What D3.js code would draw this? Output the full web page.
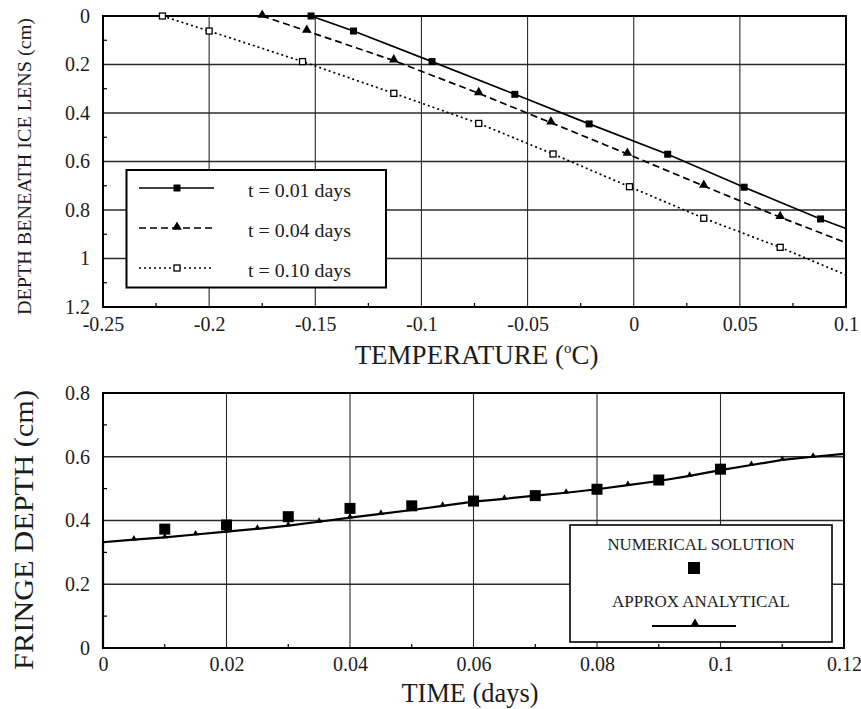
<!DOCTYPE html>
<html lang="en">
<head>
	<title>Depth beneath ice lens and fringe depth</title>
	<meta charset="utf-8" />
	<script type="text/javascript" src="https://d3js.org/d3.v7.min.js"></script>
	<style>
		body { margin: 0; background: #fff; }
		svg text { font-family: "Liberation Serif", "Times New Roman", serif; fill: #1c1c1c; }
	</style>
</head>
<body>

	<div id="content"></div>

  <script type="text/javascript">

	// ---- top panel: depth beneath ice lens vs temperature ----
	var tempTicks = [-0.25, -0.2, -0.15, -0.1, -0.05, 0, 0.05, 0.1];
	var depthTicks = [0, 0.2, 0.4, 0.6, 0.8, 1, 1.2];
	var seriesNames = ["t = 0.01 days", "t = 0.04 days", "t = 0.10 days"];

	var temp001 = [-0.152, -0.132, -0.095, -0.056, -0.021, 0.016, 0.052, 0.088];
	var depth001 = [0, 0.062, 0.188, 0.323, 0.445, 0.570, 0.706, 0.837];
	var temp004 = [-0.175, -0.154, -0.113, -0.073, -0.039, -0.003, 0.033, 0.069];
	var depth004 = [0, 0.062, 0.184, 0.319, 0.440, 0.569, 0.701, 0.830];
	var temp010 = [-0.222, -0.200, -0.156, -0.113, -0.073, -0.038, -0.002, 0.033, 0.069];
	var depth010 = [0, 0.062, 0.188, 0.319, 0.443, 0.569, 0.704, 0.834, 0.954];
	// where each curve leaves the plot at the right edge
	var edgeTemp = 0.1;
	var edgeDepth = [0.876, 0.935, 1.068];

	// ---- bottom panel: fringe depth vs time ----
	var timeTicks = [0, 0.02, 0.04, 0.06, 0.08, 0.1, 0.12];
	var fringeTicks = [0, 0.2, 0.4, 0.6, 0.8];
	var numTime = [0.01, 0.02, 0.03, 0.04, 0.05, 0.06, 0.07, 0.08, 0.09, 0.1];
	var numDepth = [0.373, 0.386, 0.412, 0.438, 0.446, 0.461, 0.478, 0.498, 0.527, 0.561];
	// analytical curve, starts from the origin and jumps up along the axis
	var anaTime = [0, 0, 0.005, 0.01, 0.015, 0.02, 0.025, 0.03, 0.035, 0.04, 0.045, 0.05, 0.055, 0.06,
		0.065, 0.07, 0.075, 0.08, 0.085, 0.09, 0.095, 0.1, 0.105, 0.11, 0.115, 0.12];
	var anaDepth = [0, 0.332, 0.340, 0.347, 0.356, 0.365, 0.374, 0.384, 0.396, 0.409, 0.421, 0.433, 0.446, 0.459,
		0.468, 0.478, 0.487, 0.498, 0.511, 0.524, 0.540, 0.558, 0.574, 0.590, 0.600, 0.609];

	var fmt = function(d) { return String(d); };
	var mids = function(t) { return t.slice(1).map(function(v, i) { return (v + t[i]) / 2; }); };

	var svg = d3.select("#content")
		.append("svg")
		.attr("width", 861)
		.attr("height", 709);

	var x1 = d3.scaleLinear().domain([-0.25, 0.1]).range([103, 846]);
	var y1 = d3.scaleLinear().domain([0, 1.2]).range([16, 307]);
	var x2 = d3.scaleLinear().domain([0, 0.12]).range([103, 844]);
	var y2 = d3.scaleLinear().domain([0, 0.8]).range([648, 393]);

	function drawFrame(x, y, xt, yt, xPad) {
		var g = svg.append("g");
		var x0 = x.range()[0], xN = x.range()[1];
		var yTop = Math.min(y.range()[0], y.range()[1]), yBot = Math.max(y.range()[0], y.range()[1]);

		// grid
		g.selectAll(".vgrid").data(xt).enter().append("line")
			.attr("x1", function(d) { return x(d); }).attr("x2", function(d) { return x(d); })
			.attr("y1", yTop).attr("y2", yBot)
			.attr("stroke", "#2a2a2a").attr("stroke-width", 1.1);
		g.selectAll(".hgrid").data(yt).enter().append("line")
			.attr("y1", function(d) { return y(d); }).attr("y2", function(d) { return y(d); })
			.attr("x1", x0).attr("x2", xN)
			.attr("stroke", "#2a2a2a").attr("stroke-width", 1.3);

		// minor ticks, inside
		g.selectAll(".mx").data(mids(xt)).enter().append("line")
			.attr("x1", function(d) { return x(d); }).attr("x2", function(d) { return x(d); })
			.attr("y1", yBot).attr("y2", yBot - 4)
			.attr("stroke", "#000").attr("stroke-width", 1.2);
		g.selectAll(".my").data(mids(yt)).enter().append("line")
			.attr("y1", function(d) { return y(d); }).attr("y2", function(d) { return y(d); })
			.attr("x1", x0).attr("x2", x0 + 4)
			.attr("stroke", "#000").attr("stroke-width", 1.2);

		// tick labels
		var ax = g.append("g").attr("transform", "translate(0," + yBot + ")")
			.call(d3.axisBottom(x).tickValues(xt).tickFormat(fmt).tickSize(0).tickPadding(xPad));
		var ay = g.append("g").attr("transform", "translate(" + x0 + ",0)")
			.call(d3.axisLeft(y).tickValues(yt).tickFormat(fmt).tickSize(0).tickPadding(13));
		ax.select(".domain").remove();
		ay.select(".domain").remove();
		g.selectAll(".tick text").attr("font-size", 20).attr("font-family", null).attr("fill", "#1c1c1c");

		// border
		g.append("rect")
			.attr("x", x0).attr("y", yTop)
			.attr("width", xN - x0).attr("height", yBot - yTop)
			.attr("fill", "none").attr("stroke", "#000").attr("stroke-width", 2);
		return g;
	}

	drawFrame(x1, y1, tempTicks, depthTicks, 10);
	drawFrame(x2, y2, timeTicks, fringeTicks, 9);

	// ---- top curves ----
	var line1 = d3.line()
		.x(function(d) { return x1(d[0]); })
		.y(function(d) { return y1(d[1]); });

	var topSeries = [
		{ t: temp001, d: depth001, dash: null, mark: "fsq" },
		{ t: temp004, d: depth004, dash: "7,4", mark: "tri" },
		{ t: temp010, d: depth010, dash: "2,3", mark: "osq" }
	];

	function drawMark(g, kind, cx, cy) {
		if (kind == "fsq") {
			g.append("rect").attr("x", cx - 3.5).attr("y", cy - 3.5).attr("width", 7).attr("height", 7)
				.attr("fill", "#000");
		} else if (kind == "tri") {
			g.append("path").attr("d", d3.symbol().type(d3.symbolTriangle).size(40)())
				.attr("transform", "translate(" + cx + "," + (cy - 1) + ")").attr("fill", "#000");
		} else {
			g.append("rect").attr("x", cx - 3).attr("y", cy - 3).attr("width", 6).attr("height", 6)
				.attr("fill", "#fff").attr("stroke", "#000").attr("stroke-width", 1.3);
		}
	}

	topSeries.forEach(function(s, i) {
		var pts = s.t.map(function(v, j) { return [v, s.d[j]]; });
		pts.push([edgeTemp, edgeDepth[i]]);
		svg.append("path")
			.attr("d", line1(pts))
			.attr("fill", "none")
			.attr("stroke", "#000")
			.attr("stroke-width", 1.7)
			.attr("stroke-dasharray", s.dash);
		var mg = svg.append("g");
		s.t.forEach(function(v, j) { drawMark(mg, s.mark, x1(v), y1(s.d[j])); });
	});

	// top legend
	var leg = svg.append("g");
	leg.append("rect")
		.attr("x", 126.5).attr("y", 170).attr("width", 259.5).attr("height", 117.5)
		.attr("fill", "#fff").attr("stroke", "#000").attr("stroke-width", 2);
	var legRows = [188, 228, 268];
	topSeries.forEach(function(s, i) {
		leg.append("line")
			.attr("x1", 139).attr("x2", 214).attr("y1", legRows[i]).attr("y2", legRows[i])
			.attr("stroke", "#000").attr("stroke-width", 1.7).attr("stroke-dasharray", s.dash);
		drawMark(leg, s.mark, 177, legRows[i]);
		leg.append("text")
			.attr("x", 248).attr("y", legRows[i] + 9)
			.attr("font-size", 19)
			.attr("textLength", 103).attr("lengthAdjust", "spacingAndGlyphs")
			.text(seriesNames[i]);
	});

	// top axis titles
	var tt = svg.append("text")
		.attr("x", 476.5).attr("y", 364)
		.attr("text-anchor", "middle")
		.attr("font-size", 27);
	tt.append("tspan").text("TEMPERATURE (");
	tt.append("tspan").attr("font-size", 15).attr("dy", -11).text("o");
	tt.append("tspan").attr("dy", 11).text("C)");

	svg.append("text")
		.attr("transform", "translate(31,166.5) rotate(-90)")
		.attr("text-anchor", "middle")
		.attr("font-size", 19)
		.attr("textLength", 297).attr("lengthAdjust", "spacingAndGlyphs")
		.text("DEPTH BENEATH ICE LENS (cm)");

	// ---- bottom curves ----
	var line2 = d3.line()
		.x(function(d) { return x2(d[0]); })
		.y(function(d) { return y2(d[1]); });

	svg.append("path")
		.attr("d", line2(anaTime.map(function(v, j) { return [v, anaDepth[j]]; })))
		.attr("fill", "none").attr("stroke", "#000").attr("stroke-width", 2.2);

	svg.append("g").selectAll("path")
		.data(anaTime.slice(2, -1))
		.enter().append("path")
		.attr("d", d3.symbol().type(d3.symbolTriangle).size(16)())
		.attr("transform", function(d, j) { return "translate(" + x2(d) + "," + (y2(anaDepth[j + 2]) - 1) + ")"; })
		.attr("fill", "#000");

	svg.append("g").selectAll("rect")
		.data(numTime)
		.enter().append("rect")
		.attr("x", function(d) { return x2(d) - 5.5; })
		.attr("y", function(d, j) { return y2(numDepth[j]) - 5.5; })
		.attr("width", 11).attr("height", 11)
		.attr("fill", "#000");

	// bottom legend
	var leg2 = svg.append("g");
	leg2.append("rect")
		.attr("x", 570).attr("y", 525).attr("width", 262).attr("height", 117)
		.attr("fill", "#fff").attr("stroke", "#000").attr("stroke-width", 1.6);
	leg2.append("text")
		.attr("x", 701).attr("y", 550).attr("text-anchor", "middle")
		.attr("font-size", 17)
		.attr("textLength", 187).attr("lengthAdjust", "spacingAndGlyphs")
		.text("NUMERICAL SOLUTION");
	leg2.append("rect")
		.attr("x", 688).attr("y", 562).attr("width", 12).attr("height", 12)
		.attr("fill", "#000");
	leg2.append("text")
		.attr("x", 701).attr("y", 606.5).attr("text-anchor", "middle")
		.attr("font-size", 17)
		.attr("textLength", 178).attr("lengthAdjust", "spacingAndGlyphs")
		.text("APPROX ANALYTICAL");
	leg2.append("line")
		.attr("x1", 652).attr("x2", 736).attr("y1", 626).attr("y2", 626)
		.attr("stroke", "#000").attr("stroke-width", 2.2);
	leg2.append("path")
		.attr("d", d3.symbol().type(d3.symbolTriangle).size(40)())
		.attr("transform", "translate(695,624)").attr("fill", "#000");

	// bottom axis titles
	svg.append("text")
		.attr("x", 470).attr("y", 702)
		.attr("text-anchor", "middle")
		.attr("font-size", 27)
		.attr("textLength", 137).attr("lengthAdjust", "spacingAndGlyphs")
		.text("TIME (days)");

	svg.append("text")
		.attr("transform", "translate(33,530) rotate(-90)")
		.attr("text-anchor", "middle")
		.attr("font-size", 27)
		.attr("textLength", 280).attr("lengthAdjust", "spacingAndGlyphs")
		.text("FRINGE DEPTH (cm)");

  </script>

</body>
</html>
